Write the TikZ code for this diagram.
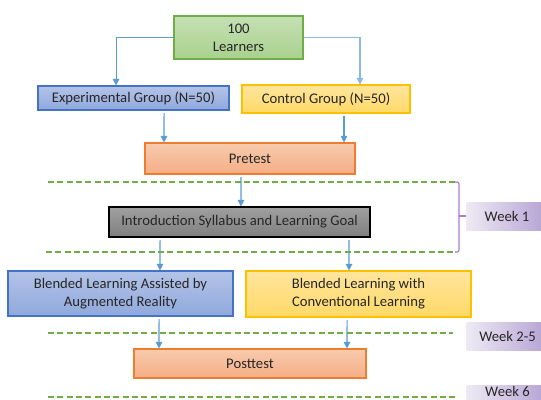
\documentclass[tikz,border=0pt]{standalone}
\usepackage{fontspec}
\setmainfont{Carlito}
\usetikzlibrary{arrows.meta}
\definecolor{txtgray}{HTML}{262626}
\definecolor{arrblue}{HTML}{5B9BD5}
\definecolor{sepgreen}{HTML}{70AD47}
\definecolor{learnA}{HTML}{C5E0B4}
\definecolor{learnB}{HTML}{A9D18E}
\definecolor{expA}{HTML}{B4C4E8}
\definecolor{expB}{HTML}{8FA8DC}
\definecolor{expline}{HTML}{4472C4}
\definecolor{ctrlA}{HTML}{FFE59E}
\definecolor{ctrlB}{HTML}{FFD966}
\definecolor{ctrlline}{HTML}{FFC000}
\definecolor{testA}{HTML}{F8CBAD}
\definecolor{testB}{HTML}{F4AE86}
\definecolor{testline}{HTML}{ED7D31}
\definecolor{introA}{HTML}{A0A0A0}
\definecolor{introB}{HTML}{7F7F7F}
\definecolor{wkA}{HTML}{EEEAF4}
\definecolor{wkB}{HTML}{B3A1D3}
\definecolor{brkline}{HTML}{A57FD4}
\begin{document}
\begin{tikzpicture}[x=0.75pt,y=-0.75pt,
	box/.style={line width=0.8pt,align=center,inner sep=0pt,text=txtgray,font=\fontsize{11}{13.4}\selectfont},
	arr/.style={draw=arrblue,line width=0.8pt,-{Triangle[length=5pt,width=5pt]}},
	sepline/.style={draw=sepgreen,line width=1.4pt,dash pattern=on 4.5pt off 2.5pt},
	weekbox/.style={left color=wkA,right color=wkB,minimum width=61.5pt,minimum height=21pt,inner sep=0pt,text=txtgray,font=\fontsize{11}{13.4}\selectfont}]
%\draw [help lines,black!20!white] (0,0) grid[step=50] (541,399);

\clip (0,0) rectangle (541,399);
\fill[white] (0,0) rectangle (541,399);

% boxes
\node[box,draw=sepgreen,top color=learnA,bottom color=learnB,minimum width=96.75pt,minimum height=32.25pt] (learn) at (238.5,37.5) {100\\Learners};
\node[box,draw=expline,top color=expA,bottom color=expB,minimum width=143.25pt,minimum height=18pt] (exp) at (133.5,98) {Experimental Group (N=50)};
\node[box,draw=ctrlline,top color=ctrlA,bottom color=ctrlB,minimum width=126pt,minimum height=21pt] (ctrl) at (326,99) {Control Group (N=50)};
\node[box,draw=testline,top color=testA,bottom color=testB,minimum width=157.5pt,minimum height=23.25pt] (pre) at (250,158.5) {Pretest};
\node[box,draw=black,top color=introA,bottom color=introB,minimum width=195.75pt,minimum height=22.5pt] (intro) at (239.5,222) {Introduction Syllabus and Learning Goal};
\node[box,draw=expline,top color=expA,bottom color=expB,minimum width=168.75pt,minimum height=33.75pt] (ar) at (120.5,293.5) {Blended Learning Assisted by\\Augmented Reality};
\node[box,draw=ctrlline,top color=ctrlA,bottom color=ctrlB,minimum width=168.75pt,minimum height=34.5pt] (conv) at (358.5,294) {Blended Learning with\\Conventional Learning};
\node[box,draw=testline,top color=testA,bottom color=testB,minimum width=174pt,minimum height=21.75pt] (post) at (250,363.5) {Posttest};

% weeks
\node[weekbox] (wk1) at (507,216) {Week 1};
\node[weekbox] (wk2) at (507.5,336) {Week 2-5};
\node[weekbox,minimum height=0pt,inner ysep=1pt,text height=7pt,text depth=10pt,anchor=base] (wk6) at (507.5,396) {Week 6};

% arrows
\draw[arr] (learn.west) -| ([xshift=-13.1pt]exp.north);
\draw[arr,draw=arrblue!70] (learn.east) -| ([xshift=25.5pt]ctrl.north);
\draw[arr] ([xshift=22.9pt,yshift=-2pt]exp.south) -- ([xshift=-64.5pt]pre.north);
\draw[arr] ([xshift=13.5pt,yshift=-2pt]ctrl.south) -- ([xshift=70.5pt]pre.north);
\draw[arr] ([xshift=-6.75pt,yshift=-2pt]pre.south) -- ([xshift=1.1pt]intro.north);
\draw[arr] ([xshift=-59.6pt,yshift=-2pt]intro.south) -- ([xshift=29.6pt]ar.north);
\draw[arr] ([xshift=82.1pt,yshift=-2pt]intro.south) -- ([xshift=-7.1pt]conv.north);
\draw[arr] ([xshift=28.9pt,yshift=-2pt]ar.south) -- ([xshift=-68.25pt]post.north);
\draw[arr] ([xshift=-8.6pt,yshift=-2pt]conv.south) -- ([xshift=72.75pt]post.north);

% week separators
\draw[sepline] (48,182) -- (455,182);
\draw[sepline] (46,252) -- (455,252);
\draw[sepline] (48,333) -- (453,333);
\draw[sepline] (48,397) -- (455,397);

% bracket
\draw[brkline,line width=0.9pt,rounded corners=1.5pt] (455,182) -- (459,182) -- (459,252) -- (455,252);
\draw[brkline,line width=0.9pt] (459,216) -- (wk1.west);

\end{tikzpicture}
\end{document}
